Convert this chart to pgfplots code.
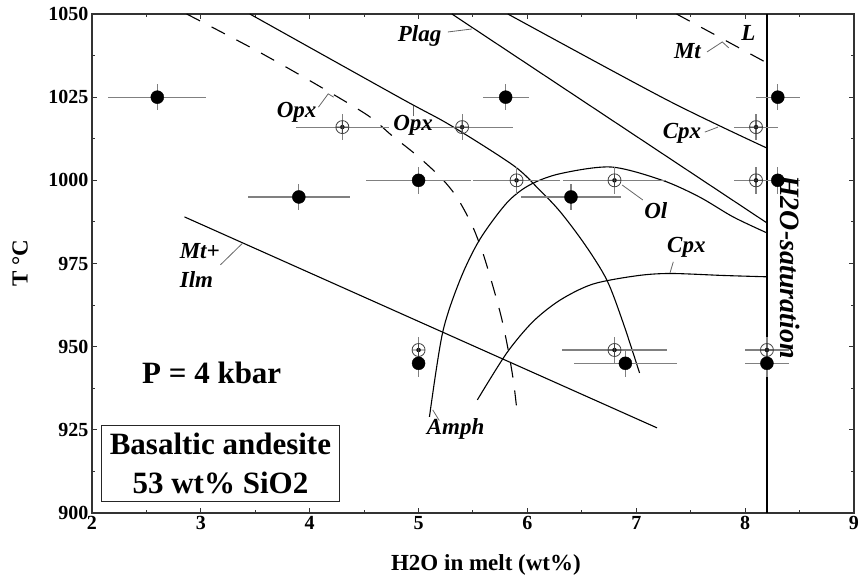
\documentclass[border=0pt]{standalone}
\usepackage{fontspec}
\setmainfont{Liberation Serif}
\usepackage{pgfplots}
\usepackage{pgfplotstable}
\pgfplotsset{compat=1.18}

\tikzset{
  lbl/.style={font=\bfseries\itshape\fontsize{23}{23}\selectfont},
  ldr/.style={black!60, line width=0.8pt},
}
\pgfplotsset{
  bars/.style={only marks, mark=none, forget plot,
    error bars/.cd, x dir=both, x explicit, y dir=both, y explicit,
    error mark=none, error bar style={black!50, line width=1.2pt}},
  curve/.style={black, line width=1.1pt},
}

% experiments: x = H2O (wt%), y = T, ex/ey = half error bars
\pgfplotstableread{
x    y     ex    ey
2.6  1025  0.45  4
3.9  995   0.47  4
5.0  1000  0.48  4
5.8  1025  0.21  4
6.4  995   0.46  4
8.3  1025  0.20  4
8.3  1000  0.20  4
5.0  945   0.00  4
6.9  945   0.47  4
8.2  945   0.20  4
}\filledpts

\pgfplotstableread{
x    y     ex    ey
4.3  1016  0.43  4
5.4  1016  0.47  4
5.9  1000  0.40  4
6.8  1000  0.47  4
8.1  1016  0.20  4
8.1  1000  0.20  4
5.0  949   0.00  4
6.8  949   0.48  4
8.2  949   0.20  4
}\openpts

\begin{document}
\begin{tikzpicture}
\path[use as bounding box] (-92pt,-71pt) rectangle (768pt,513pt);
\begin{axis}[
  at={(0,0)}, anchor=south west,
  width=762pt, height=499pt, scale only axis,
  xmin=2, xmax=9, ymin=900, ymax=1050,
  xtick={2,...,9}, ytick={900,925,...,1050},
  minor x tick num=1, minor y tick num=1,
  tick align=inside, major tick length=5pt, minor tick length=3pt,
  axis line style={draw=black!80, line width=1.2pt},
  tick style={black!80, line width=1pt},
  /pgf/number format/assume math mode=true,
  /pgf/number format/1000 sep={},
  ticklabel style={font=\bfseries\fontsize{20}{20}\selectfont},
  xlabel={H2O in melt (wt\%)},
  ylabel={T °C},
  label style={font=\bfseries\fontsize{23}{23}\selectfont},
  xlabel style={at={(axis description cs:0.517,-0.104)}, anchor=center},
  ylabel style={at={(axis description cs:-0.0945,0.5)}, anchor=center},
]
% phase boundaries
\addplot[curve, dash pattern=on 15pt off 13pt, smooth, tension=0.5] coordinates {
  (2.87,1050) (3.50,1039.2) (4.02,1029.6) (4.53,1019.6) (4.75,1013.6) (4.98,1007.6)
  (5.20,1001.0) (5.35,995.0) (5.49,986.6) (5.59,978.2) (5.68,968.5) (5.76,958.9)
  (5.82,949.6) (5.87,940.0) (5.90,931.9)};
\addplot[curve, smooth, tension=0.5] coordinates {
  (3.45,1050) (4.83,1024.8) (5.29,1016.6) (5.87,1004.5) (6.10,997.5) (6.30,990.6)
  (6.53,980.6) (6.73,970.0) (6.88,957.1) (7.03,942.1)};
\addplot[curve, smooth, tension=0.5] coordinates {
  (5.10,928.9) (5.22,954.1) (5.38,970.0) (5.56,982.1) (5.81,993.2) (6.02,998.6)
  (6.30,1002.0) (6.77,1004) (7.24,1000) (7.58,995) (7.89,989) (8.2,984.2)};
\addplot[curve, smooth, tension=0.5] coordinates {
  (5.54,934) (5.81,948.1) (6.05,957.5) (6.30,964) (6.6,968.8) (7.0,971.3)
  (7.31,972.0) (7.8,971.4) (8.2,971)};
\addplot[curve] coordinates {(5.306,1050) (8.2,987.2)};
\addplot[curve, smooth, tension=0.5] coordinates {(5.82,1050) (7.28,1024.2) (8.2,1009.7)};
\addplot[curve] coordinates {(2.85,989) (7.19,925.6)};
\addplot[curve, dash pattern=on 15pt off 13pt] coordinates {(7.37,1050) (8.2,1035.3)};
\addplot[black, line width=2.5pt] coordinates {(8.2,900) (8.2,1050)};

% experiments
\addplot[bars] table[x=x, y=y, x error=ex, y error=ey] {\openpts};
\addplot[bars] table[x=x, y=y, x error=ex, y error=ey] {\filledpts};
\addplot[only marks, mark=oplus, mark size=6.5pt, mark options={draw=black!75, fill=none, line width=0.8pt}]
  table[x=x, y=y] {\openpts};
\addplot[only marks, mark=*, mark size=6.5pt, mark options={fill=black, draw=black}]
  table[x=x, y=y] {\filledpts};

% labels
\node[lbl] at (axis cs:5.01,1043.4) {Plag};
\draw[ldr] (axis cs:5.27,1044.6) -- (axis cs:5.49,1045.5);
\node[lbl] at (axis cs:3.88,1020.5) {Opx};
\draw[ldr] (axis cs:4.08,1022.0) -- (axis cs:4.17,1026.0) -- (axis cs:4.22,1025.0);
\node[lbl] at (axis cs:4.95,1016.6) {Opx};
\draw[ldr] (axis cs:4.95,1019.2) -- (axis cs:4.95,1022.2);
\node[lbl] at (axis cs:7.47,1038.9) {Mt};
\draw[ldr] (axis cs:7.65,1038.6) -- (axis cs:7.79,1041.6) -- (axis cs:7.85,1039.8);
\node[lbl] at (axis cs:8.03,1044.3) {L};
\node[lbl] at (axis cs:7.42,1014.2) {Cpx};
\draw[ldr] (axis cs:7.63,1014.5) -- (axis cs:7.75,1016.0);
\node[lbl] at (axis cs:7.18,990.8) {Ol};
\draw[ldr] (axis cs:7.06,994.1) -- (axis cs:6.87,998.6);
\node[lbl] at (axis cs:7.46,980.0) {Cpx};
\draw[ldr] (axis cs:7.34,975.5) -- (axis cs:7.31,972.2);
\node[lbl] at (axis cs:5.34,925.3) {Amph};
\draw[ldr] (axis cs:5.13,931.0) -- (axis cs:5.19,927.8);
\node[lbl] at (axis cs:2.99,978.8) {Mt+};
\node[lbl] at (axis cs:2.96,970.3) {Ilm};
\draw[ldr] (axis cs:3.18,974.6) -- (axis cs:3.38,981.0);
\node[rotate=-90, font=\bfseries\itshape\fontsize{28}{28}\selectfont] at (axis cs:8.41,974) {H2O-saturation};
\node[font=\bfseries\fontsize{31}{31}\selectfont] at (axis cs:3.10,942.1) {P = 4 kbar};
\node[draw=black!85, line width=1pt, minimum width=238pt, minimum height=76pt,
  align=center, font=\bfseries\fontsize{31}{39}\selectfont, inner sep=0pt]
  at (axis cs:3.18,915.0) {Basaltic andesite\\53 wt\% SiO2};
\end{axis}
\end{tikzpicture}
\end{document}
